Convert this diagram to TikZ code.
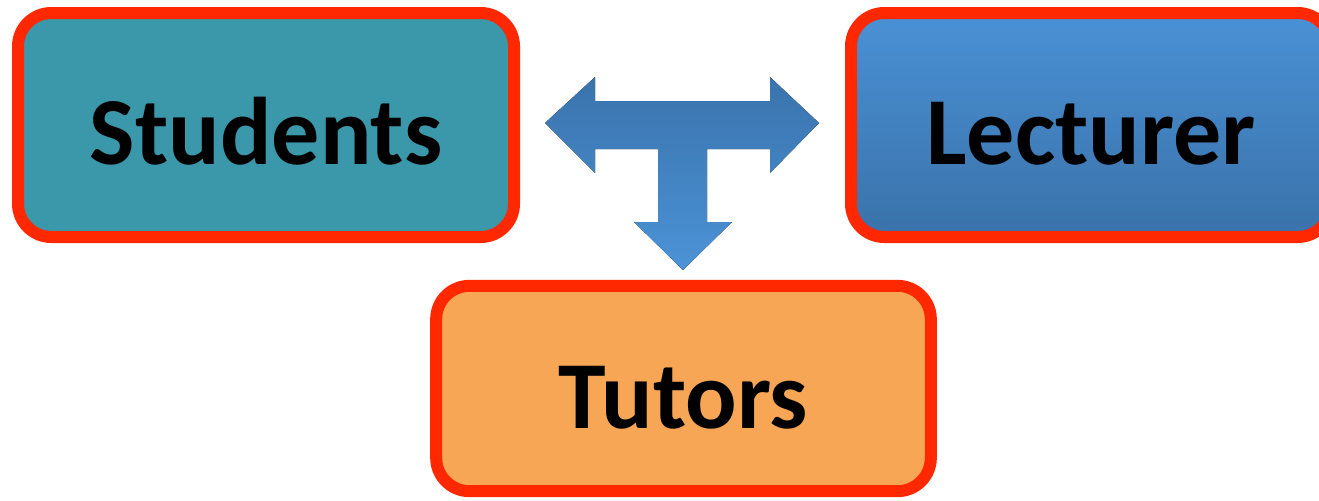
\documentclass[tikz,border=0pt]{standalone}
\usepackage{fontspec}
\setmainfont{Carlito}
\definecolor{redline}{RGB}{255,40,0}
\definecolor{teal1}{RGB}{59,151,170}
\definecolor{blueTop}{RGB}{74,145,213}
\definecolor{blueBot}{RGB}{58,114,170}
\definecolor{arrTop}{RGB}{58,115,172}
\definecolor{arrBot}{RGB}{75,147,215}
\definecolor{orange1}{RGB}{247,166,86}
\begin{document}
\begin{tikzpicture}[x=0.75pt,y=-0.75pt,
  box/.style={draw=redline, line width=9pt, rounded corners=25pt, inner sep=0pt,
    text height=59.5pt, text depth=0pt,
    font=\fontsize{72}{80}\selectfont\bfseries, text=black}]
\clip (0,0) rectangle (1319,500);
\node[box, fill=teal1, minimum width=372pt, minimum height=168pt] (students) at (266,125) {Students};
\node[box, top color=blueTop, bottom color=blueBot, minimum width=360pt, minimum height=168pt] (lecturer) at (1091,125) {Lecturer};
\node[box, fill=orange1, minimum width=371pt, minimum height=154pt] (tutors) at (683.5,388.5) {Tutors};
\fill[top color=arrTop, bottom color=arrBot]
  (545,123) -- (595,77) -- (595,101) -- (770,101) -- (770,77) -- (819,123)
  -- (770,173) -- (770,149) -- (707,149) -- (707,222) -- (732,222) -- (683,270)
  -- (634,222) -- (658,222) -- (658,149) -- (595,149) -- (595,173) -- cycle;
\end{tikzpicture}
\end{document}
